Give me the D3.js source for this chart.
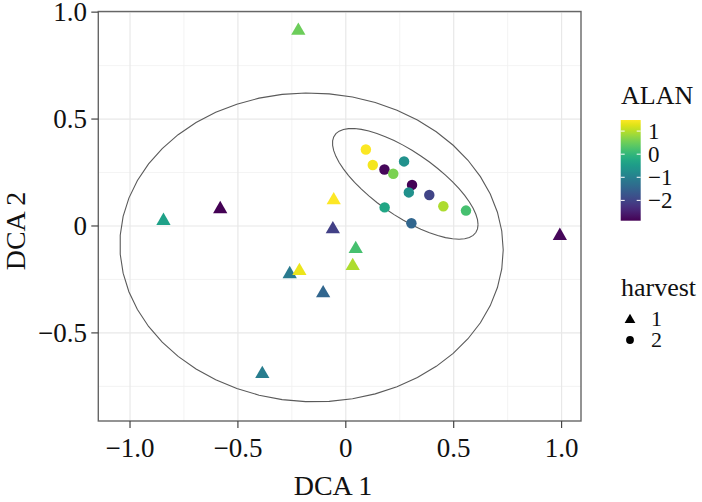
<!DOCTYPE html>
<html>
<head>
<meta charset="utf-8">
<script src="https://cdn.jsdelivr.net/npm/d3@7"></script>
<style>
  html, body { margin: 0; padding: 0; background: #fff; }
  text { font-family: "Liberation Serif", "Times New Roman", serif; }
</style>
</head>
<body>
<svg id="chart" width="702" height="502"></svg>
<script>
// ---- data ----
const harvest1_dca1 = [-0.22, -0.845, -0.582, -0.056, -0.06, 0.046, 0.032, -0.26, -0.215, -0.105, -0.387, 0.992];
const harvest1_dca2 = [0.92, 0.031, 0.086, 0.128, -0.008, -0.10, -0.18, -0.218, -0.203, -0.307, -0.685, -0.039];
const harvest1_alan = [0.5, -0.4, -2.88, 1.48, -2.05, 0.2, 0.95, -1.1, 1.35, -1.45, -1.05, -2.8];

const harvest2_dca1 = [0.093, 0.125, 0.179, 0.22, 0.27, 0.307, 0.292, 0.387, 0.452, 0.557, 0.18, 0.304];
const harvest2_dca2 = [0.358, 0.285, 0.264, 0.244, 0.302, 0.192, 0.157, 0.145, 0.092, 0.072, 0.087, 0.013];
const harvest2_alan = [1.45, 1.4, -2.8, 0.6, -0.7, -2.85, -0.7, -2.0, 0.95, 0.2, -0.3, -1.45];

const xTicks = [-1.0, -0.5, 0, 0.5, 1.0];
const xTickLabels = ["\u22121.0", "\u22120.5", "0", "0.5", "1.0"];
const yTicks = [-0.5, 0, 0.5, 1.0];
const yTickLabels = ["\u22120.5", "0", "0.5", "1.0"];
const alanTicks = [1, 0, -1, -2];
const alanTickLabels = ["1", "0", "\u22121", "\u22122"];
const harvestLevels = ["1", "2"];

// ---- layout ----
const svg = d3.select("#chart");
const W = 702, H = 502;
svg.append("rect").attr("width", W).attr("height", H).attr("fill", "#fff");
const P = { left: 98.3, right: 581, top: 11.5, bottom: 421 };

const x = d3.scaleLinear().domain([-1.147, 1.09]).range([P.left, P.right]);
const y = d3.scaleLinear().domain([-0.912, 1.003]).range([P.bottom, P.top]);

const allAlan = harvest1_alan.concat(harvest2_alan);
const alanExt = d3.extent(allAlan);
const color = d3.scaleSequential(d3.interpolateViridis).domain(alanExt);

const pts1 = harvest1_dca1.map((d, i) => ({ x: d, y: harvest1_dca2[i], a: harvest1_alan[i], h: "1" }));
const pts2 = harvest2_dca1.map((d, i) => ({ x: d, y: harvest2_dca2[i], a: harvest2_alan[i], h: "2" }));

// ---- grid ----
const grid = svg.append("g");
const xMinor = [-0.75, -0.25, 0.25, 0.75];
const yMinor = [-0.75, -0.25, 0.25, 0.75];
grid.selectAll(".xmin").data(xMinor).join("line")
  .attr("x1", d => x(d)).attr("x2", d => x(d)).attr("y1", P.top).attr("y2", P.bottom)
  .attr("stroke", "#f0f0f0").attr("stroke-width", 0.8);
grid.selectAll(".ymin").data(yMinor).join("line")
  .attr("y1", d => y(d)).attr("y2", d => y(d)).attr("x1", P.left).attr("x2", P.right)
  .attr("stroke", "#f0f0f0").attr("stroke-width", 0.8);
grid.selectAll(".xmaj").data(xTicks).join("line")
  .attr("x1", d => x(d)).attr("x2", d => x(d)).attr("y1", P.top).attr("y2", P.bottom)
  .attr("stroke", "#e8e8e8").attr("stroke-width", 1.2);
grid.selectAll(".ymaj").data(yTicks).join("line")
  .attr("y1", d => y(d)).attr("y2", d => y(d)).attr("x1", P.left).attr("x2", P.right)
  .attr("stroke", "#e8e8e8").attr("stroke-width", 1.2);

// ---- robust ellipse (stat_ellipse, type "t", level 0.95) ----
function covTrob(pts, nu = 5, maxit = 25, tol = 0.01) {
  const n = pts.length, p = 2;
  let w = pts.map(() => 1);
  let loc = [d3.mean(pts, d => d[0]), d3.mean(pts, d => d[1])];
  let X;
  for (let iter = 0; iter < maxit; iter++) {
    const w0 = w.slice();
    X = pts.map(d => [d[0] - loc[0], d[1] - loc[1]]);
    const sw = d3.sum(w);
    let s11 = 0, s12 = 0, s22 = 0;
    X.forEach((v, i) => { const f = w[i] / sw; s11 += f * v[0] * v[0]; s12 += f * v[0] * v[1]; s22 += f * v[1] * v[1]; });
    const det = s11 * s22 - s12 * s12;
    const i11 = s22 / det, i12 = -s12 / det, i22 = s11 / det;
    const Q = X.map(v => v[0] * v[0] * i11 + 2 * v[0] * v[1] * i12 + v[1] * v[1] * i22);
    w = Q.map(q => (nu + p) / (nu + q));
    const sw2 = d3.sum(w);
    loc = [d3.sum(pts, (d, i) => w[i] * d[0]) / sw2, d3.sum(pts, (d, i) => w[i] * d[1]) / sw2];
    if (w.every((v, i) => Math.abs(v - w0[i]) < tol)) break;
  }
  let c11 = 0, c12 = 0, c22 = 0;
  X.forEach((v, i) => { c11 += w[i] * v[0] * v[0]; c12 += w[i] * v[0] * v[1]; c22 += w[i] * v[1] * v[1]; });
  return { center: loc, cov: [[c11 / n, c12 / n], [c12 / n, c22 / n]] };
}
function ellipsePts(pts, level = 0.95, segments = 51) {
  const n = pts.length;
  const { center, cov } = covTrob(pts);
  const d2 = n - 1;
  const qf = (d2 / 2) * (Math.pow(1 - level, -2 / d2) - 1); // qf(level, 2, n-1)
  const r = Math.sqrt(2 * qf);
  const a = Math.sqrt(cov[0][0]);
  const b = cov[0][1] / a;
  const c = Math.sqrt(cov[1][1] - b * b);
  const out = [];
  for (let k = 0; k <= segments; k++) {
    const t = k * 2 * Math.PI / segments;
    const ct = Math.cos(t), st = Math.sin(t);
    out.push([center[0] + r * ct * a, center[1] + r * (ct * b + st * c)]);
  }
  return out;
}
const line = d3.line().x(d => x(d[0])).y(d => y(d[1]));
[pts1, pts2].forEach(g => {
  svg.append("path").attr("d", line(ellipsePts(g.map(d => [d.x, d.y]))))
    .attr("fill", "none").attr("stroke", "#5a5a5a").attr("stroke-width", 1.1);
});

// ---- points ----
const tri = d3.symbol().type(d3.symbolTriangle).size(88);
const cir = d3.symbol().type(d3.symbolCircle).size(86);
svg.append("g").selectAll("path").data(pts1).join("path")
  .attr("d", tri).attr("transform", d => `translate(${x(d.x)},${y(d.y) + 1.5})`)
  .attr("fill", d => color(d.a));
svg.append("g").selectAll("path").data(pts2).join("path")
  .attr("d", cir).attr("transform", d => `translate(${x(d.x)},${y(d.y)})`)
  .attr("fill", d => color(d.a));

// ---- border ----
svg.append("rect").attr("x", P.left).attr("y", P.top)
  .attr("width", P.right - P.left).attr("height", P.bottom - P.top)
  .attr("fill", "none").attr("stroke", "#666").attr("stroke-width", 1.4);

// ---- axes ----
const ax = svg.append("g");
ax.selectAll(".xt").data(xTicks).join("line")
  .attr("x1", d => x(d)).attr("x2", d => x(d)).attr("y1", P.bottom).attr("y2", P.bottom + 7)
  .attr("stroke", "#444").attr("stroke-width", 1.2);
ax.selectAll(".xl").data(xTicks).join("text")
  .attr("x", d => x(d)).attr("y", 456.5).attr("text-anchor", "middle")
  .attr("font-size", 27).attr("fill", "#111").text((d, i) => xTickLabels[i]);
ax.selectAll(".yt").data(yTicks).join("line")
  .attr("y1", d => y(d)).attr("y2", d => y(d)).attr("x1", P.left - 7).attr("x2", P.left)
  .attr("stroke", "#444").attr("stroke-width", 1.2);
ax.selectAll(".yl").data(yTicks).join("text")
  .attr("x", 87).attr("y", d => y(d)).attr("dy", "0.34em").attr("text-anchor", "end")
  .attr("font-size", 27).attr("fill", "#111").text((d, i) => yTickLabels[i]);

svg.append("text").attr("x", 333).attr("y", 495).attr("text-anchor", "middle")
  .attr("font-size", 28).attr("fill", "#111").text("DCA 1");
svg.append("text").attr("transform", "translate(25,231) rotate(-90)").attr("text-anchor", "middle")
  .attr("font-size", 28).attr("fill", "#111").text("DCA 2");

// ---- colour legend ----
const LG = { x: 620.7, w: 20, top: 120, bottom: 220.7 };
const defs = svg.append("defs");
const grad = defs.append("linearGradient").attr("id", "vir").attr("x1", 0).attr("y1", 1).attr("x2", 0).attr("y2", 0);
d3.range(0, 1.0001, 0.05).forEach(t => grad.append("stop").attr("offset", t).attr("stop-color", d3.interpolateViridis(t)));
svg.append("text").attr("x", 621).attr("y", 104).attr("font-size", 26).attr("fill", "#111").text("ALAN");
svg.append("rect").attr("x", LG.x).attr("y", LG.top).attr("width", LG.w).attr("height", LG.bottom - LG.top)
  .attr("fill", "url(#vir)");
const ly = d3.scaleLinear().domain(alanExt).range([LG.bottom, LG.top]);
const lg = svg.append("g");
lg.selectAll(".lt1").data(alanTicks).join("line")
  .attr("x1", LG.x).attr("x2", LG.x + 4).attr("y1", d => ly(d)).attr("y2", d => ly(d))
  .attr("stroke", "#fff").attr("stroke-width", 1);
lg.selectAll(".lt2").data(alanTicks).join("line")
  .attr("x1", LG.x + LG.w - 4).attr("x2", LG.x + LG.w).attr("y1", d => ly(d)).attr("y2", d => ly(d))
  .attr("stroke", "#fff").attr("stroke-width", 1);
lg.selectAll(".ll").data(alanTicks).join("text")
  .attr("x", 648).attr("y", d => ly(d)).attr("dy", "0.34em")
  .attr("font-size", 23).attr("fill", "#111").text((d, i) => alanTickLabels[i]);

// ---- shape legend ----
svg.append("text").attr("x", 621).attr("y", 296).attr("font-size", 26).attr("fill", "#111").text("harvest");
const keyY = [319, 340];
svg.append("path").attr("d", d3.symbol().type(d3.symbolTriangle).size(50)())
  .attr("transform", `translate(630,${keyY[0] + 1})`).attr("fill", "#000");
svg.append("path").attr("d", d3.symbol().type(d3.symbolCircle).size(48)())
  .attr("transform", `translate(630,${keyY[1]})`).attr("fill", "#000");
harvestLevels.forEach((lv, i) => {
  svg.append("text").attr("x", 651).attr("y", keyY[i]).attr("dy", "0.34em")
    .attr("font-size", 22).attr("fill", "#111").text(lv);
});
</script>
</body>
</html>
